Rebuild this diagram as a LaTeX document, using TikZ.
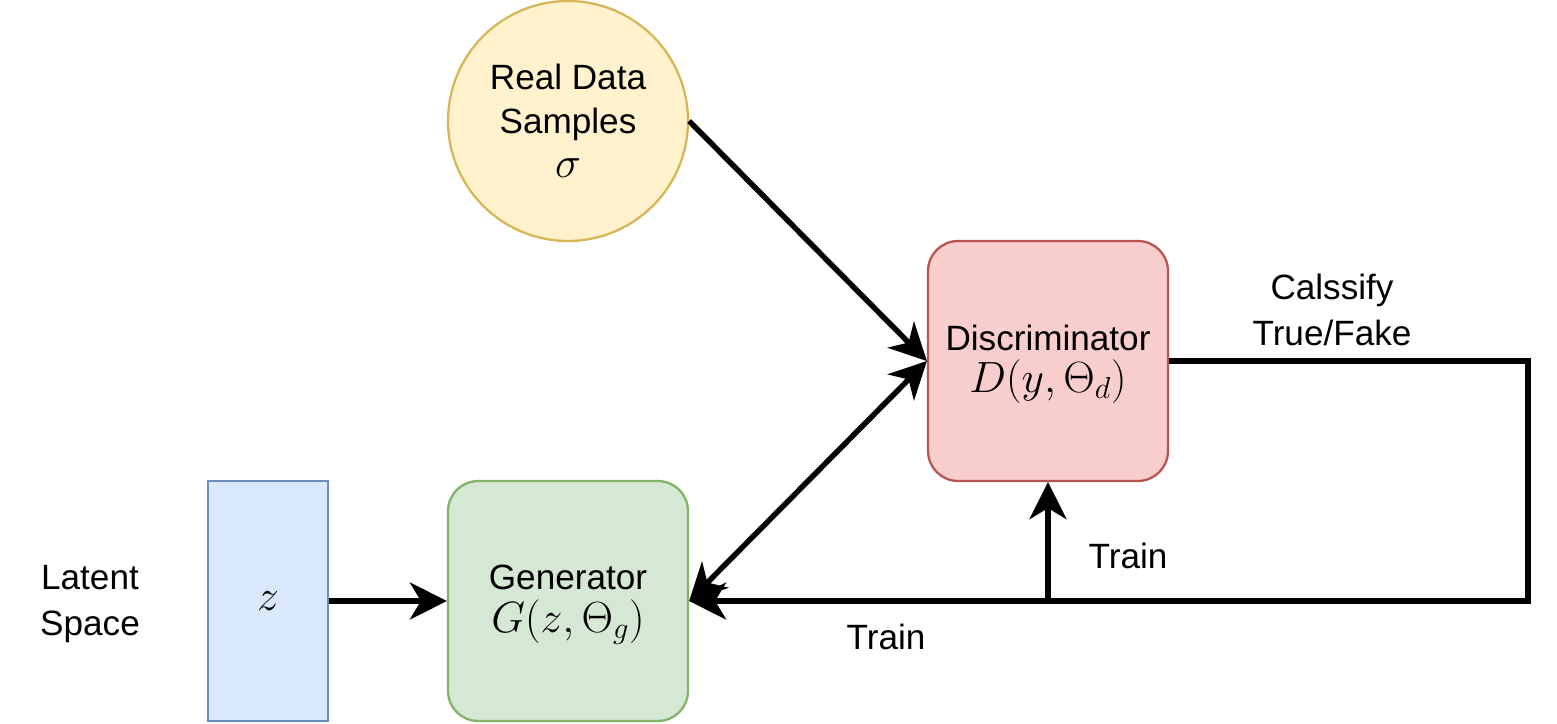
\documentclass[tikz,border=0pt]{standalone}
\usepackage{fontspec}
\setmainfont{Liberation Sans}
\usetikzlibrary{arrows.meta}
\definecolor{yfill}{HTML}{FFF2CC}\definecolor{ydraw}{HTML}{D6B656}
\definecolor{bfill}{HTML}{DAE8FC}\definecolor{bdraw}{HTML}{6C8EBF}
\definecolor{gfill}{HTML}{D5E8D4}\definecolor{gdraw}{HTML}{82B366}
\definecolor{rfill}{HTML}{F8CECC}\definecolor{rdraw}{HTML}{B85450}
\begin{document}
\begin{tikzpicture}[x=0.02cm,y=-0.02cm,
  txt/.style={font=\fontsize{20}{24}\selectfont,align=center,inner sep=0pt},
  box/.style={line width=1.3pt,minimum width=4.8cm,minimum height=4.8cm,inner sep=0pt,align=center,font=\fontsize{20}{24}\selectfont},
  conn/.style={line width=3.1pt,line join=miter,-{Stealth[length=0.74cm,width=0.74cm,inset=0.22cm]}},
  conn2/.style={line width=3.1pt,{Stealth[length=0.74cm,width=0.74cm,inset=0.22cm]}-{Stealth[length=0.74cm,width=0.74cm,inset=0.22cm]}}]
\useasboundingbox (0,0) rectangle (1557,723);
\node[box,circle,fill=yfill,draw=ydraw] (real) at (568,121) {Real Data\\[1pt]Samples\\[1pt]{\fontsize{23}{26}\selectfont$\sigma$}};
\node[box,minimum width=2.4cm,fill=bfill,draw=bdraw] (z) at (268,601) {{\fontsize{23}{26}\selectfont$z$}};
\node[box,rounded corners=0.6cm,fill=gfill,draw=gdraw] (gen) at (568,601) {};
\node[txt] (gent) at (568,605) {Generator\\{\fontsize{23}{26}\selectfont$G(z,\Theta_g)$}};
\node[box,rounded corners=0.6cm,fill=rfill,draw=rdraw] (disc) at (1048,361) {};
\node[txt] (disct) at (1048,364) {Discriminator\\{\fontsize{23}{26}\selectfont$D(y,\Theta_d)$}};
\node[txt] (latent) at (90,604) {Latent\\[2pt]Space};
\node[txt] (cls) at (1332,310) {Calssify\\[2pt]True/Fake};
\node[txt] (train1) at (1128,556) {Train};
\node[txt] (train2) at (886,637) {Train};
\coordinate (c1) at (1528,361);
\coordinate (c2) at (1528,601);
\coordinate (c3) at (1048,601);
\draw[conn] (real.east) -- (disc.west);
\draw[conn2] (gen.east) -- (disc.west);
\draw[conn] (z.east) -- (gen.west);
\draw[conn] (disc.east) -- (c1) -- (c2) -- (gen.east);
\draw[conn] (c3) -- (disc.south);
\end{tikzpicture}
\end{document}
